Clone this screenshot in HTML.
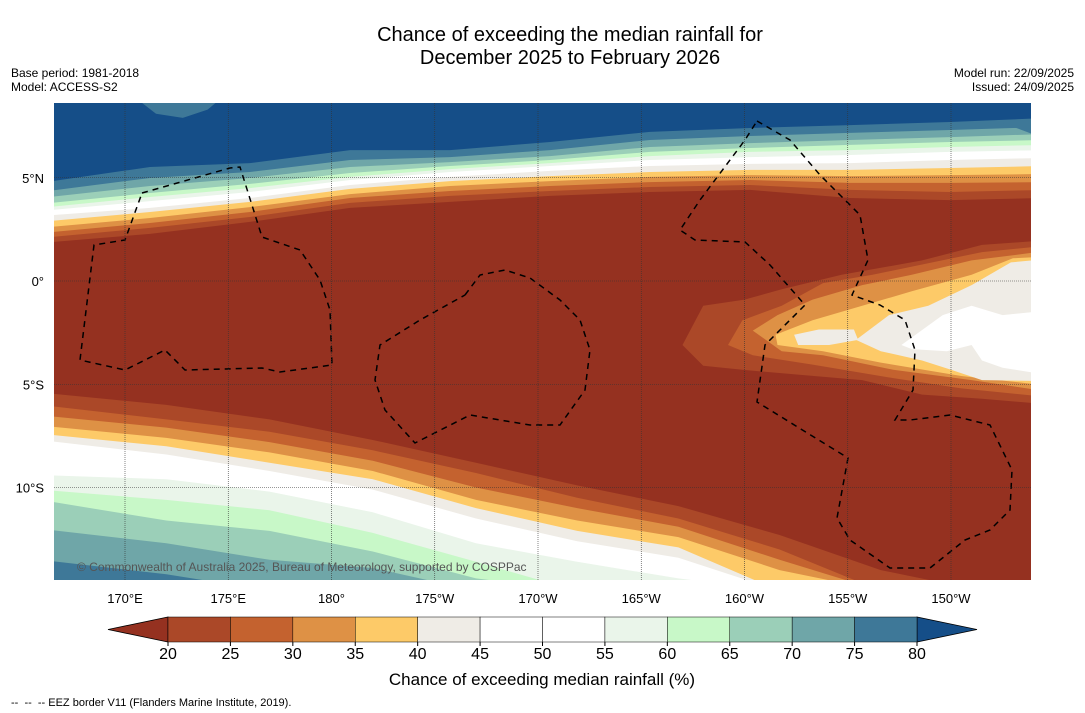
<!DOCTYPE html>
<html><head><meta charset="utf-8"><style>
body{margin:0;background:#fff;font-family:"Liberation Sans","DejaVu Sans",sans-serif}
svg{display:block}
</style></head><body>
<svg id="chart" width="1085" height="713" viewBox="0 0 1085 713" xmlns="http://www.w3.org/2000/svg">
<rect width="1085" height="713" fill="#fff"/>
<text x="570" y="41" font-size="20" text-anchor="middle" fill="#000">Chance of exceeding the median rainfall for</text>
<text x="570" y="64" font-size="20" text-anchor="middle" fill="#000">December 2025 to February 2026</text>
<text x="11" y="77" font-size="12">Base period: 1981-2018</text>
<text x="11" y="91" font-size="12">Model: ACCESS-S2</text>
<text x="1074" y="77" font-size="12" text-anchor="end">Model run: 22/09/2025</text>
<text x="1074" y="91" font-size="12" text-anchor="end">Issued: 24/09/2025</text>
<defs><clipPath id="mapclip"><rect x="54" y="103" width="977" height="477"/></clipPath></defs>
<g id="map" clip-path="url(#mapclip)"></g>
<g id="axes"></g>
<text x="77" y="571" font-size="12" fill="#555">© Commonwealth of Australia 2025, Bureau of Meteorology, supported by COSPPac</text>
<g id="cbar"></g>
<text x="542" y="685" font-size="17" text-anchor="middle">Chance of exceeding median rainfall (%)</text>
<text x="11" y="706" font-size="11">-- &#160;-- &#160;-- EEZ border V11 (Flanders Marine Institute, 2019).</text>
</svg>
<script>
const NS="http://www.w3.org/2000/svg";
const levels=[20,25,30,35,40,45,50,55,60,65,70,75,80];
const colors=["#AB4828","#C4622F","#DE9145","#FDCA68","#EFECE6","#FFFFFF","#FFFFFF","#EAF5EA","#C8F8C8","#9BCFB8","#6FA6A8","#3E7898"];
const lowColor="#953120", highColor="#154E88";
const northLons=[166.56,171.21,176.05,180.9,185.74,190.58,195.42,200.27,205.11,209.95,213.87];
const northLevels=[20,25,30,35,40,45,55,60,65,70,75,80];
const northLats=[
[1.84,2.28,2.86,3.54,3.83,4.12,4.31,4.41,4.02,3.92,4.02],
[2.08,2.57,3.10,3.78,4.12,4.36,4.55,4.65,4.41,4.31,4.41],
[2.32,2.81,3.34,4.02,4.36,4.60,4.79,4.89,4.75,4.75,4.79],
[2.57,3.05,3.58,4.21,4.60,4.84,5.04,5.13,5.08,5.13,5.18],
[2.86,3.34,3.83,4.46,4.84,5.08,5.28,5.38,5.38,5.47,5.57],
[3.15,3.54,4.02,4.65,5.04,5.33,5.57,5.67,5.71,5.86,5.96],
[3.39,3.87,4.31,4.89,5.28,5.57,5.86,6.00,6.10,6.25,6.34],
[3.54,4.07,4.50,5.04,5.42,5.71,6.05,6.25,6.34,6.49,6.59],
[3.73,4.26,4.70,5.23,5.57,5.86,6.25,6.44,6.59,6.73,6.83],
[4.02,4.60,4.99,5.52,5.76,6.05,6.49,6.68,6.83,6.97,7.12],
[4.31,4.99,5.28,5.86,6.00,6.34,6.83,7.02,7.17,7.31,7.46],
[4.75,5.52,5.71,6.34,6.34,6.73,7.22,7.41,7.55,7.70,7.89]];
const southLons=[167.4,172,177,182,187,191.9,196.8,201.7,206.6,211.5,215.4];
const southLevels=[20,25,30,35,40,45,55,60,65,70,75];
const southLats=[
[-5.4,-6.0,-6.7,-7.7,-8.8,-9.9,-10.9,-12.3,-14.0,-15,-15],
[-6.0,-6.7,-7.3,-8.2,-9.3,-10.5,-11.5,-13.0,-15,-15,-15],
[-6.5,-7.1,-7.8,-8.7,-10.0,-11.0,-11.9,-13.5,-15,-15,-15],
[-7.0,-7.6,-8.3,-9.2,-10.6,-11.6,-12.4,-14.0,-15,-15,-15],
[-7.4,-8.0,-8.8,-9.6,-11.0,-12.1,-12.9,-15,-15,-15,-15],
[-7.7,-8.4,-9.2,-10.1,-11.5,-12.6,-13.4,-15,-15,-15,-15],
[-9.4,-9.6,-10.2,-11.2,-12.7,-13.6,-14.4,-15,-15,-15,-15],
[-10.1,-10.6,-11.1,-12.2,-13.6,-15,-15,-15,-15,-15,-15],
[-10.6,-11.6,-12.1,-13.1,-14.4,-15,-15,-15,-15,-15,-15],
[-12.0,-12.7,-13.5,-13.9,-15,-15,-15,-15,-15,-15,-15],
[-13.5,-14.2,-15,-15,-15,-15,-15,-15,-15,-15,-15]];
const lonTicks=[170,175,180,185,190,195,200,205,210];
const lonLabels=["170°E","175°E","180°","175°W","170°W","165°W","160°W","155°W","150°W"];
const latTicks=[5,0,-5,-10];
const latLabels=["5°N","0°","5°S","10°S"];
const X=lon=>125+(lon-170)*20.65;
const Y=lat=>281-lat*20.65;
const map=document.getElementById('map');
function poly(pts,fill,parent,name,extra){
  const p=document.createElementNS(NS,'polygon');
  p.setAttribute('points',pts.map(q=>q[0].toFixed(1)+','+q[1].toFixed(1)).join(' '));
  p.setAttribute('fill',fill);
  if(extra)for(const k in extra)p.setAttribute(k,extra[k]);
  
  
  parent.appendChild(p);return p;
}
function colorFor(lv){const i=levels.indexOf(lv);return i>=levels.length-1?highColor:colors[i];}
const bg=document.createElementNS(NS,'rect');
bg.setAttribute('x',54);bg.setAttribute('y',103);bg.setAttribute('width',977);bg.setAttribute('height',477);bg.setAttribute('fill',lowColor);


map.appendChild(bg);
northLevels.forEach((lv,i)=>{
  const pts=[[40,90]];
  northLons.forEach((ln,j)=>pts.push([X(ln),Y(northLats[i][j])]));
  pts[1][0]=40;pts[pts.length-1][0]=1045;pts.push([1045,90]);
  poly(pts,colorFor(lv),map,'north-band-'+lv);
});
southLevels.forEach((lv,i)=>{
  const pts=[[40,600]];
  southLons.forEach((ln,j)=>pts.push([X(ln),Y(southLats[i][j])]));
  pts[1][0]=40;pts[pts.length-1][0]=1045;pts.push([1045,600]);
  poly(pts,colorFor(lv),map,'south-band-'+lv);
});
const patches={
75:[[[170.6,8.8],[171.5,8.1],[172.8,7.9],[174,8.3],[174.6,8.8]],[[212.2,7.6],[213.2,7.4],[214.5,6.9],[214.5,7.8]]]};
Object.keys(patches).forEach(k=>patches[k].forEach(pp=>poly(pp.map(q=>[X(q[0]),Y(q[1])]),colorFor(+k),map,'wet-patch-'+k)));
const tongue={
20:[[197,-3.1],[198,-1.2],[200,-0.9],[201.8,-0.4],[204.7,0.3],[208.6,1.0],[211.5,1.75],[215,2.0],[215,-6],[211.5,-5.7],[208.6,-5.5],[205.7,-4.8],[202.8,-4.55],[199.9,-4.3],[198,-4.1]],
25:[[199.9,-1.9],[201.8,-1.2],[203.8,-0.1],[206.2,0.3],[208.6,0.8],[211.5,1.4],[215,1.75],[215,-5.65],[210.5,-5.2],[207.2,-4.7],[203.3,-4.05],[200.4,-3.6],[199.2,-3.1]],
30:[[200.4,-2.4],[201.6,-1.65],[203.3,-0.9],[205.7,-0.2],[208.1,0.3],[211,1.0],[215,1.5],[215,-5.4],[211,-4.8],[207.2,-4.3],[203.8,-3.6],[201.8,-3.4]],
35:[[201.5,-2.6],[203.3,-1.9],[205.7,-1.2],[208.1,-0.5],[211,0.3],[213,1.1],[215,1.2],[215,-5.1],[210.5,-4.6],[206.6,-3.95],[203.8,-3.4],[201.6,-3.1]],
40:[[202.4,-2.6],[203.6,-2.35],[205.3,-2.35],[205.5,-2.85],[204.1,-3.1],[202.6,-3.1]],
41:[[205.4,-2.85],[207,-1.65],[208.9,-1.2],[211,-0.2],[212.9,0.9],[215,1.1],[215,-4.85],[211.5,-4.8],[210,-4.3],[208.6,-3.85],[206.6,-3.4]],
45:[[207.6,-3.1],[209.6,-1.65],[211,-1.2],[212.5,-1.65],[215,-1.4],[215,-4.6],[212.5,-4.2],[211.5,-3.85],[211,-3.1],[209.8,-3.4],[208.1,-3.3]]};
Object.keys(tongue).forEach(k=>{
  const lv=k==='41'?40:+k;
  poly(tongue[k].map(q=>[X(q[0]),Y(q[1])]),colorFor(lv),map,'dry-tongue-'+k);
});
const axes=document.getElementById('axes');
lonTicks.forEach((ln,i)=>{
  const l=document.createElementNS(NS,'line');
  l.setAttribute('x1',X(ln));l.setAttribute('x2',X(ln));l.setAttribute('y1',103);l.setAttribute('y2',580);
  l.setAttribute('stroke','#333');l.setAttribute('stroke-width','0.6');l.setAttribute('stroke-dasharray','1,1');
  
  
  axes.appendChild(l);
  const t=document.createElementNS(NS,'text');
  t.setAttribute('x',X(ln));t.setAttribute('y',603);t.setAttribute('font-size','13');t.setAttribute('text-anchor','middle');
  t.textContent=lonLabels[i];
  
  
  axes.appendChild(t);
});
latTicks.forEach((lt,i)=>{
  const l=document.createElementNS(NS,'line');
  l.setAttribute('x1',54);l.setAttribute('x2',1031);l.setAttribute('y1',Y(lt));l.setAttribute('y2',Y(lt));
  l.setAttribute('stroke','#333');l.setAttribute('stroke-width','0.6');l.setAttribute('stroke-dasharray','1,1');
  
  
  axes.appendChild(l);
  const t=document.createElementNS(NS,'text');
  t.setAttribute('x',44);t.setAttribute('y',Y(lt)+5);t.setAttribute('font-size','13');t.setAttribute('text-anchor','end');
  t.textContent=latLabels[i];
  
  
  axes.appendChild(t);
});
const eez=[
[[142,193],[230,168],[240,167],[262,237],[300,250],[320,280],[330,310],[332,365],[280,372],[262,368],[185,370],[165,350],[125,370],[80,360],[94,245],[125,240],[142,193]],
[[465,295],[480,275],[505,270],[530,278],[560,300],[580,320],[590,350],[585,390],[560,425],[530,425],[470,415],[415,443],[385,410],[375,380],[380,345],[420,320],[465,295]],
[[757,121],[790,140],[820,175],[860,215],[868,260],[852,295],[880,305],[905,320],[915,350],[913,390],[895,420],[910,420],[950,415],[990,425],[1012,470],[1010,510],[990,530],[965,540],[930,568],[890,568],[850,540],[837,518],[848,458],[757,402],[765,345],[805,305],[770,265],[745,242],[695,240],[680,230],[700,200],[745,140],[757,121]]];
eez.forEach(pts=>{
  const p=document.createElementNS(NS,'polyline');
  p.setAttribute('points',pts.map(q=>q.join(',')).join(' '));
  p.setAttribute('fill','none');p.setAttribute('stroke','#000');p.setAttribute('stroke-width','1.5');p.setAttribute('stroke-dasharray','6,5');
  
  
  map.appendChild(p);
});
const cb=document.getElementById('cbar');
const cx0=168,cx1=917,cy0=617,cy1=642;
const CX=v=>cx0+(v-20)*(cx1-cx0)/60;
poly([[108,(cy0+cy1)/2],[cx0,cy0],[cx0,cy1]],lowColor,cb,'colorbar-low-extension',{stroke:'#000','stroke-width':'0.8'});
poly([[977,(cy0+cy1)/2],[cx1,cy0],[cx1,cy1]],highColor,cb,'colorbar-high-extension',{stroke:'#000','stroke-width':'0.8'});
colors.forEach((c,i)=>{
  const r=document.createElementNS(NS,'rect');
  r.setAttribute('x',CX(levels[i]));r.setAttribute('y',cy0);r.setAttribute('width',CX(levels[i+1])-CX(levels[i]));r.setAttribute('height',cy1-cy0);
  r.setAttribute('fill',c);r.setAttribute('stroke','#000');r.setAttribute('stroke-width','0.5');
  
  
  cb.appendChild(r);
});
levels.forEach(v=>{
  const l=document.createElementNS(NS,'line');
  l.setAttribute('x1',CX(v));l.setAttribute('x2',CX(v));l.setAttribute('y1',cy1);l.setAttribute('y2',cy1+4);l.setAttribute('stroke','#000');
  
  
  cb.appendChild(l);
  const t=document.createElementNS(NS,'text');
  t.setAttribute('x',CX(v));t.setAttribute('y',659);t.setAttribute('font-size','16');t.setAttribute('text-anchor','middle');
  t.textContent=v;
  
  
  cb.appendChild(t);
});
</script>
</body></html>
